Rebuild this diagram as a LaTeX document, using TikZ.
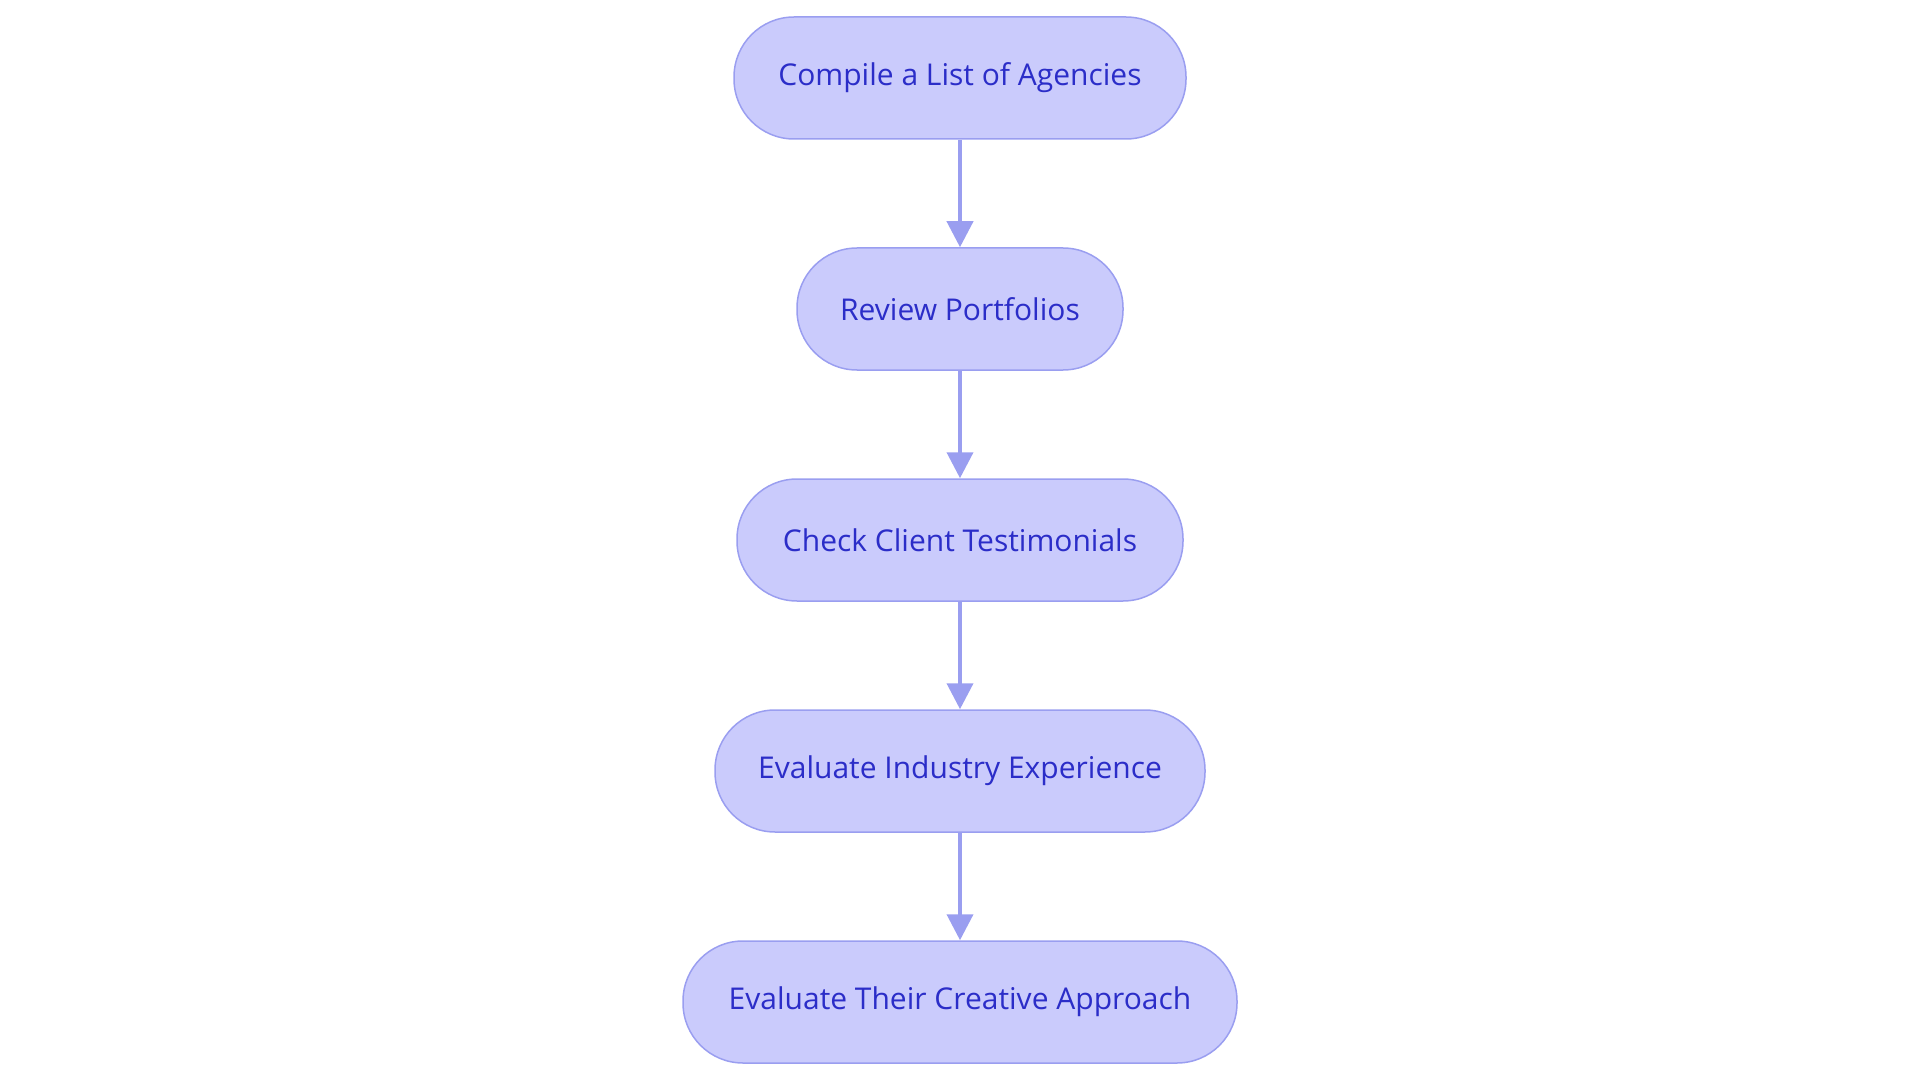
\documentclass[tikz,border=0pt]{standalone}
\usepackage{fontspec}
\setmainfont{Open Sans}
\usetikzlibrary{arrows.meta}
\definecolor{nodefill}{HTML}{CACBFC}
\definecolor{nodeline}{HTML}{9A9EF0}
\definecolor{nodetext}{HTML}{2B2DC8}
\definecolor{arrowcol}{HTML}{9A9EF0}
\tikzset{
  stepbox/.style={draw=nodeline, fill=nodefill, line width=1.5pt, rounded corners=60pt,
    minimum height=122pt, inner sep=0pt, text=nodetext, font=\fontsize{30}{34}\selectfont},
  flow/.style={draw=arrowcol, line width=4pt, -{Triangle[length=26pt,width=26pt]}, shorten >=0pt}
}
\begin{document}
\begin{tikzpicture}[x=1pt,y=1pt]
\useasboundingbox (0,0) rectangle (1920,-1083);
\node[stepbox, minimum width=452pt] (n1) at (960,-78) {Compile a List of Agencies};
\node[stepbox, minimum width=326pt] (n2) at (960,-309) {Review Portfolios};
\node[stepbox, minimum width=446pt] (n3) at (960,-540) {Check Client Testimonials};
\node[stepbox, minimum width=490pt] (n4) at (960,-771) {Evaluate Industry Experience};
\node[stepbox, minimum width=554pt] (n5) at (960,-1002) {Evaluate Their Creative Approach};
\draw[flow] (n1) -- (n2);
\draw[flow] (n2) -- (n3);
\draw[flow] (n3) -- (n4);
\draw[flow] (n4) -- (n5);
\end{tikzpicture}
\end{document}
